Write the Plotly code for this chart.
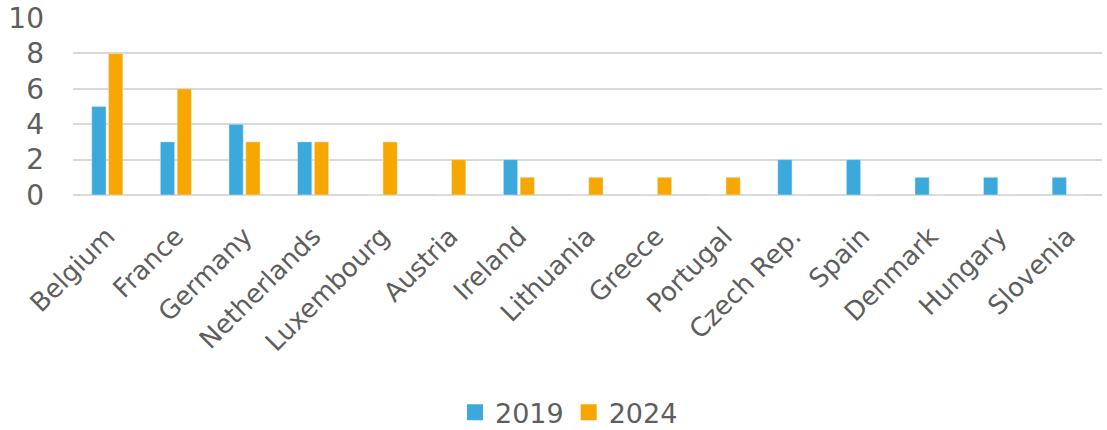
import plotly.graph_objects as go

countries = ["Belgium", "France", "Germany", "Netherlands", "Luxembourg", "Austria",
             "Ireland", "Lithuania", "Greece", "Portugal", "Czech Rep.", "Spain",
             "Denmark", "Hungary", "Slovenia"]
values_2019 = [5, 3, 4, 3, 0, 0, 2, 0, 0, 0, 2, 2, 1, 1, 1]
values_2024 = [8, 6, 3, 3, 3, 2, 1, 1, 1, 1, 0, 0, 0, 0, 0]
series_names = ["2019", "2024"]
y_ticks = [0, 2, 4, 6, 8, 10]

BLUE = "#3BA9DC"
ORANGE = "#F7A800"
TEXT = "#5E5E5E"
GRID = "#D9D9D9"
FONT = "DejaVu Sans"

fig = go.Figure()
for name, vals, col in zip(series_names, [values_2019, values_2024], [BLUE, ORANGE]):
    fig.add_trace(go.Bar(name=name, x=countries, y=vals, marker_color=col,
                         showlegend=False, legendgroup=name))
    # larger square legend keys
    fig.add_trace(go.Scatter(name=name, x=[None], y=[None], mode="markers",
                             marker=dict(symbol="square", size=16, color=col),
                             legendgroup=name, showlegend=True))

fig.update_layout(
    width=1107, height=430,
    margin=dict(l=73, r=5, t=18, b=235, autoexpand=False),
    paper_bgcolor="white", plot_bgcolor="white",
    barmode="group", bargap=0.51, bargroupgap=0.15,
    font=dict(family=FONT, color=TEXT, size=22),
    showlegend=True,
    legend=dict(orientation="h", x=0.482, xanchor="center", y=-1.23, yanchor="middle",
                font=dict(size=27, color=TEXT), itemsizing="trace",
                traceorder="normal", itemwidth=30),
)
fig.update_xaxes(tickangle=-45, tickfont=dict(size=26, color=TEXT, family=FONT),
                 showgrid=False, showline=False, ticks="", ticklabelstandoff=20,
                 automargin=False)
fig.update_yaxes(range=[0, 10], tickvals=y_ticks, showgrid=True, gridcolor=GRID, gridwidth=2,
                 zeroline=True, zerolinecolor=GRID, zerolinewidth=2, automargin=False,
                 tickfont=dict(size=28, color=TEXT, family=FONT),
                 ticks="", ticklabelstandoff=28)

fig.write_html("out.html")
